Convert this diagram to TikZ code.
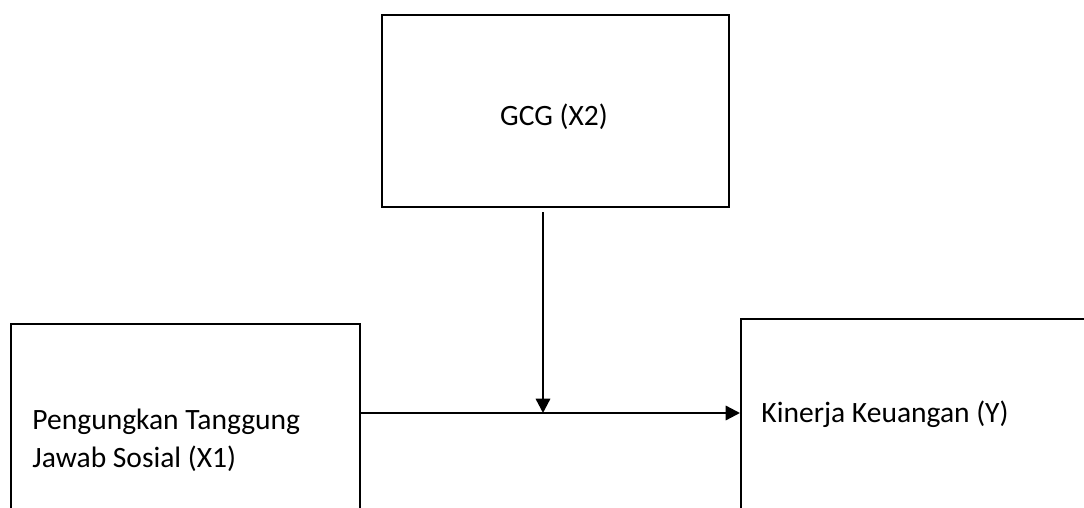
\documentclass[tikz,border=0pt]{standalone}
\usepackage{fontspec}
\setmainfont{Carlito}
\usetikzlibrary{arrows.meta}
\def\px{0.42pt}
\tikzset{
	varbox/.style={draw, line width=1pt, anchor=north west, inner sep=0pt},
	vartext/.style={font=\fontsize{12.4}{16}\selectfont, inner sep=0pt, align=left},
	link/.style={line width=1pt, -{Triangle[length=6pt,width=6pt]}}
}
\begin{document}
\begin{tikzpicture}[x=\px,y=-\px]
	\clip (0,0) rectangle (1084,508);
	% the three variables
	\node[varbox, minimum width=347*\px, minimum height=192*\px] (gcg) at (381,14) {};
	\node[varbox, minimum width=349*\px, minimum height=300*\px] (csr) at (10,323) {};
	\node[varbox, minimum width=400*\px, minimum height=300*\px] (kin) at (740,318) {};
	\node[vartext] (gcgtext) at (554,117) {GCG (X2)};
	\node[vartext, anchor=base west] (csrtext) at (32,468) {Pengungkan Tanggung\\Jawab Sosial (X1)};
	\node[vartext, anchor=base west] (kintext) at (761,423) {Kinerja Keuangan (Y)};
	% moderation point
	\coordinate (mod) at (543,413);
	\draw[link] (csr.east |- mod) -- (kin.west |- mod);
	\draw[link, shorten <=4*\px] (gcg.south -| mod) -- (mod);
\end{tikzpicture}
\end{document}
